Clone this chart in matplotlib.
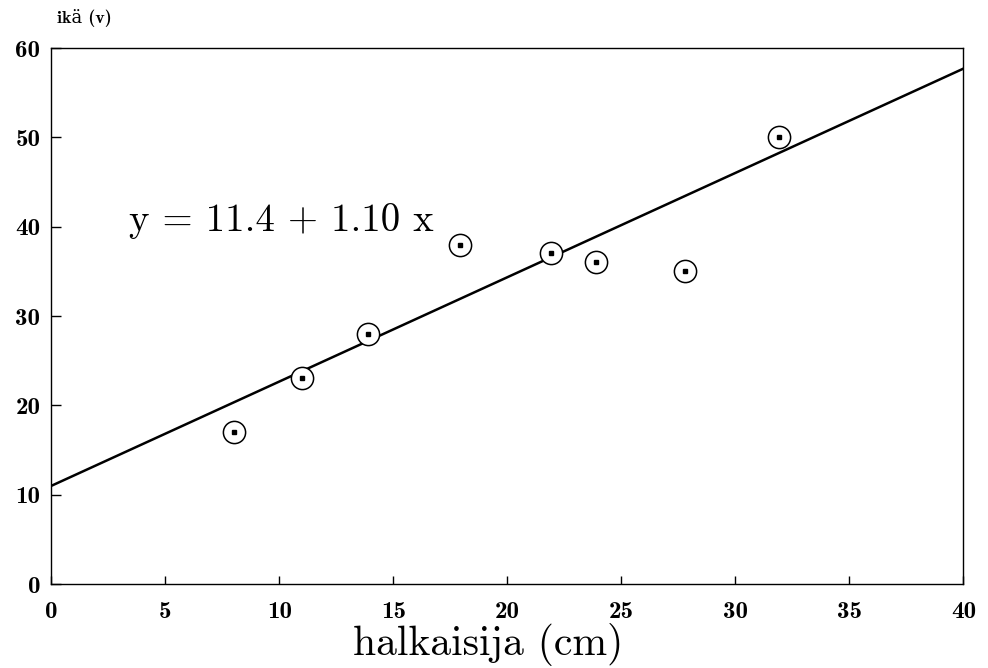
import matplotlib
matplotlib.use("Agg")
import matplotlib.pyplot as plt

# ---- data ----
diameter_cm = [8.0, 11.0, 13.9, 17.9, 21.9, 23.9, 27.8, 31.9]
age_years = [17.0, 23.1, 28.0, 38.0, 37.0, 36.0, 35.0, 50.0]

line_x = [0.0, 40.0]
line_y = [11.0, 57.7]

x_ticks = [0, 5, 10, 15, 20, 25, 30, 35, 40]
x_tick_labels = ["0", "5", "10", "15", "20", "25", "30", "35", "40"]
y_ticks = [0, 10, 20, 30, 40, 50, 60]
y_tick_labels = ["0", "10", "20", "30", "40", "50", "60"]

equation_text = "y = 11.4 + 1.10 x"
x_label = "halkaisija (cm)"
y_label = "ikä (v)"

# ---- styling ----
plt.rcParams['font.family'] = ['cmr10', 'DejaVu Serif']
plt.rcParams['axes.unicode_minus'] = False

fig = plt.figure(figsize=(9.88, 6.68), dpi=100)
ax = fig.add_axes([0.0521, 0.1257, 0.9231, 0.8024])

ax.plot(line_x, line_y, color='black', lw=1.8, solid_capstyle='butt', zorder=2)
ax.plot(diameter_cm, age_years, linestyle='none', marker='o', markersize=16,
        markerfacecolor='white', markeredgecolor='black', markeredgewidth=1.1, zorder=3)
ax.plot(diameter_cm, age_years, linestyle='none', marker='s', markersize=2.4,
        color='black', zorder=4)

ax.set_xlim(0, 40)
ax.set_ylim(0, 60)

tick_font = dict(family=['cmb10', 'DejaVu Serif'], size=18)
ax.set_xticks(x_ticks)
ax.set_xticklabels(x_tick_labels, fontdict=tick_font)
ax.set_yticks(y_ticks)
ax.set_yticklabels(y_tick_labels, fontdict=tick_font)

ax.tick_params(axis='x', direction='in', length=6, width=1.0, pad=12,
               top=False, bottom=True)
ax.tick_params(axis='y', direction='in', length=7, width=1.0, pad=8,
               left=True, right=False)

for s in ax.spines.values():
    s.set_linewidth(1.0)

ax.text(3.4, 39.5, equation_text, fontsize=28, ha='left', va='baseline')

ax.set_xlabel(x_label, fontsize=30)
ax.xaxis.set_label_coords(0.4786, -0.113)
ax.xaxis.label.set_va('center')

ax.set_ylabel(y_label, fontsize=13, rotation=0, family=['cmb10', 'DejaVu Serif'])
ax.yaxis.set_label_coords(0.006, 1.056)
ax.yaxis.label.set_ha('left')
ax.yaxis.label.set_va('center')

fig.savefig("out.png", dpi=100)
